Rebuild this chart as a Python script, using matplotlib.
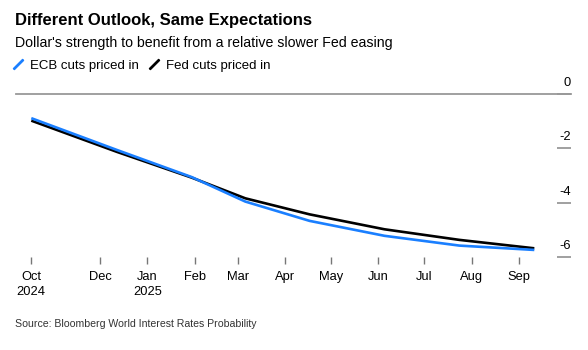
import matplotlib
matplotlib.use("Agg")
import matplotlib.pyplot as plt
import pandas as pd
from matplotlib.lines import Line2D

# ECB meeting dates used as the x points
dates = pd.to_datetime(["2024-10-17", "2024-12-12", "2025-01-30", "2025-03-06",
                        "2025-04-17", "2025-06-05", "2025-07-24", "2025-09-11"])
ecb = [-0.89, -2.06, -3.06, -3.96, -4.67, -5.22, -5.58, -5.74]
fed = [-0.98, -2.13, -3.08, -3.84, -4.43, -4.98, -5.37, -5.68]

tick_dates = pd.to_datetime(["2024-10-17", "2024-12-01", "2025-01-01", "2025-02-01",
                             "2025-03-01", "2025-04-01", "2025-05-01", "2025-06-01",
                             "2025-07-01", "2025-08-01", "2025-09-01"])
tick_labels = ["Oct\n2024", "Dec", "Jan\n2025", "Feb", "Mar", "Apr", "May",
               "Jun", "Jul", "Aug", "Sep"]
y_ticks = [0, -2, -4, -6]

plt.rcParams["font.family"] = ["Liberation Sans", "DejaVu Sans"]

blue = "#1a7fff"
grey = "#999999"

fig = plt.figure(figsize=(5.88, 3.5), dpi=100)
ax = fig.add_axes([16 / 588, 1 - 257 / 350, 555 / 588, 163 / 350])

ax.plot(dates, fed, color="black", lw=1.9, solid_capstyle="butt")
ax.plot(dates, ecb, color=blue, lw=1.9, solid_capstyle="butt")

ax.set_xlim(pd.Timestamp("2024-10-07"), pd.Timestamp("2025-10-05"))
ax.set_ylim(-6, 0)

for s in ["left", "right", "bottom"]:
    ax.spines[s].set_visible(False)
ax.spines["top"].set_color(grey)
ax.spines["top"].set_linewidth(1.3)

ax.set_xticks(tick_dates)
ax.set_xticklabels(tick_labels, fontsize=9.3, linespacing=1.4)
ax.tick_params(axis="x", length=5, width=1, color="#777777", pad=5)

ax.yaxis.tick_right()
ax.set_yticks(y_ticks)
ax.tick_params(axis="y", direction="in", length=10, width=1.3, color=grey,
               labelright=False, labelleft=False)
for v in y_ticks:
    ax.annotate(str(v), xy=(1, v), xycoords=("axes fraction", "data"),
                xytext=(0, 8), textcoords="offset points",
                ha="right", va="center", fontsize=9.3)

fig.text(15 / 588, 1 - 20 / 350, "Different Outlook, Same Expectations",
         fontsize=12, weight="bold", va="center")
fig.text(15 / 588, 1 - 43 / 350, "Dollar's strength to benefit from a relative slower Fed easing",
         fontsize=10.2, va="center")

handles = [Line2D([], [], color=blue, ls="none", marker=(2, 2, -45), markersize=10, mew=1.7),
           Line2D([], [], color="black", ls="none", marker=(2, 2, -45), markersize=10, mew=1.7)]
fig.legend(handles, ["ECB cuts priced in", "Fed cuts priced in"],
           loc="center left", bbox_to_anchor=(12 / 588, 1 - 66 / 350), ncol=2,
           frameon=False, fontsize=9.5, handlelength=0.9, handletextpad=0.45,
           columnspacing=0.7, borderpad=0, borderaxespad=0)

fig.text(15 / 588, 1 - 324 / 350, "Source: Bloomberg World Interest Rates Probability",
         fontsize=7.6, color="#333333", va="center")

fig.savefig("out.png", dpi=100)
